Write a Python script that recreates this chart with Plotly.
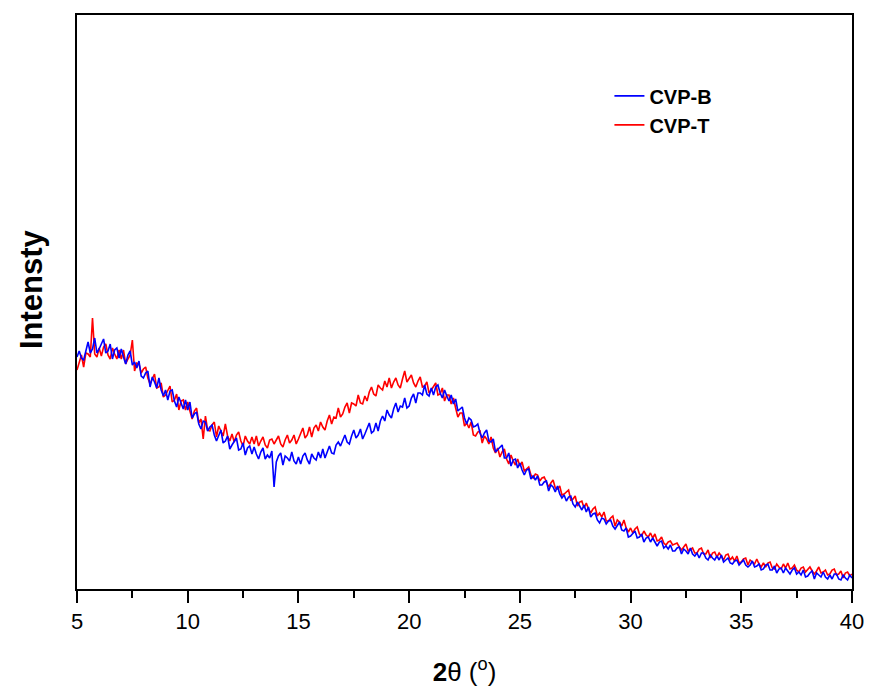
import numpy as np
import plotly.graph_objects as go

# 2-theta sampling grid (degrees), 5.0 .. 40.0 in 0.1 steps
two_theta = np.round(np.linspace(5, 40, 351), 1)

# Intensity (arbitrary units)
cvp_b = [
    232,238,231,229,238,247,236,240,251,236,
    240,246,250,236,238,245,230,239,241,231,
    240,232,225,234,238,224,227,221,228,213,
    211,216,218,202,212,207,201,211,199,193,
    199,189,198,199,188,182,192,186,180,189,
    179,187,171,175,177,165,160,168,167,158,
    162,164,154,148,154,159,146,148,153,140,
    144,148,151,139,140,146,134,141,143,135,
    142,135,130,137,141,130,134,131,138,102,
    127,133,136,124,133,131,128,137,128,125,
    132,125,133,136,129,125,135,131,129,137,
    131,140,131,137,143,136,135,144,147,143,
    149,154,147,145,153,159,151,154,160,150,
    155,161,166,156,158,166,158,168,173,168,
    179,174,171,180,186,177,183,182,191,181,
    183,191,195,186,196,196,194,204,195,193,
    201,194,202,204,196,191,199,193,188,194,
    185,190,178,180,182,171,165,171,169,162,
    163,165,156,151,156,159,148,147,150,137,
    139,142,144,131,131,136,123,129,130,121,
    126,119,114,119,120,110,113,109,113,104,
    104,107,108,98,104,102,97,103,95,91,
    94,88,92,93,85,82,87,83,79,84,
    77,82,72,75,76,69,66,71,70,65,
    68,69,63,60,64,67,59,58,61,52,
    53,56,58,51,52,55,47,51,52,47,
    51,47,43,47,48,41,43,40,44,38,
    38,41,42,35,40,38,35,41,35,33,
    36,31,36,36,31,29,34,31,29,33,
    29,34,27,29,31,26,25,28,29,24,
    27,29,24,22,24,28,22,23,25,19,
    20,24,25,19,19,23,16,20,21,16,
    21,18,15,19,21,15,17,14,19,12,
    13,16,18,10,16,14,12,17,12,10,
    14,10,15,15,10,9,14,11,9,14,
    11,
]

cvp_t = [
    219,228,234,222,236,235,232,271,235,232,
    241,233,242,245,234,230,241,235,230,239,
    230,239,225,230,234,249,218,226,225,216,
    220,222,211,205,210,215,201,202,206,192,
    194,199,203,187,189,195,179,188,189,179,
    187,178,170,178,181,166,170,150,173,159,
    158,164,167,152,163,158,153,165,153,148,
    155,147,154,157,148,143,153,148,145,152,
    145,153,143,148,152,144,141,149,150,145,
    149,153,145,142,149,154,146,149,154,145,
    150,156,161,151,154,162,152,161,164,158,
    167,162,159,168,174,165,172,171,181,172,
    175,182,186,176,186,185,183,194,186,185,
    193,188,197,202,195,193,204,201,199,208,
    202,211,201,207,211,204,201,210,218,207,
    211,214,206,202,208,212,202,203,207,196,
    199,203,206,194,195,201,188,194,194,185,
    191,181,172,176,176,163,166,161,167,154,
    153,157,158,146,153,150,145,152,141,136,
    141,132,137,140,130,125,134,128,124,130,
    123,127,118,120,122,114,111,115,114,108,
    111,112,106,102,106,109,101,100,103,94,
    95,97,99,89,90,93,83,87,88,81,
    86,80,76,80,82,73,76,72,77,68,
    68,71,73,63,69,67,63,69,61,57,
    61,56,60,62,55,53,58,54,52,56,
    51,55,48,49,52,46,44,47,48,44,
    45,46,42,39,42,45,38,40,41,36,
    36,40,41,35,35,39,31,36,37,32,
    36,33,29,34,35,29,32,28,33,26,
    27,30,31,24,29,27,25,30,25,22,
    26,22,26,27,21,20,25,22,20,25,
    21,26,20,21,24,19,17,21,22,17,
    20,22,18,15,18,22,16,17,19,14,
    15,19,20,14,15,18,11,16,17,13,
    15,
]

x_ticks = [5, 10, 15, 20, 25, 30, 35, 40]

fig = go.Figure()
fig.add_trace(go.Scatter(x=two_theta, y=cvp_t, mode="lines", name="CVP-T",
                         line=dict(color="#ff0000", width=1.6), legendrank=2))
fig.add_trace(go.Scatter(x=two_theta, y=cvp_b, mode="lines", name="CVP-B",
                         line=dict(color="#0000ff", width=1.6), legendrank=1))

sans = "Liberation Sans, Arial, sans-serif"

fig.update_layout(
    width=869, height=695,
    margin=dict(l=77, r=17, t=15, b=106, autoexpand=False),
    plot_bgcolor="white", paper_bgcolor="white",
    showlegend=True,
    legend=dict(x=0.687, y=0.893, xanchor="left", yanchor="top",
                bgcolor="rgba(0,0,0,0)",
                font=dict(family=sans, size=20, color="black", weight="bold"),
                tracegroupgap=0),
    xaxis=dict(range=[5, 40], tickmode="array", tickvals=x_ticks,
               ticktext=[str(t) for t in x_ticks],
               automargin=False,
               showgrid=False, zeroline=False,
               showline=True, linecolor="black", linewidth=1.5, mirror=True,
               ticks="outside", ticklen=12, tickwidth=1.5, tickcolor="black",
               ticklabelstandoff=0,
               minor=dict(ticks="outside", ticklen=7, tickwidth=1.5, tickcolor="black", dtick=2.5, tick0=5),
               tickfont=dict(family=sans, size=22, color="black"),
               title=dict(text="<b>2</b>θ (<sup>o</sup>)", standoff=30,
                          font=dict(family=sans, size=26, color="black"))),
    yaxis=dict(range=[0, 574], showticklabels=False, ticks="",
               automargin=False,
               showgrid=False, zeroline=False,
               showline=True, linecolor="black", linewidth=1.5, mirror=True),
    annotations=[dict(text="<b>Intensty</b>", x=(31 - 77) / 775, y=(589 - 289) / 574,
                      xref="paper", yref="paper",
                      xanchor="center", yanchor="middle", textangle=-90, showarrow=False,
                      font=dict(family=sans, size=31, color="black"))],
)

fig.write_html("out.html", config={"displayModeBar": False},
               post_script="document.body.style.margin='0px';")
